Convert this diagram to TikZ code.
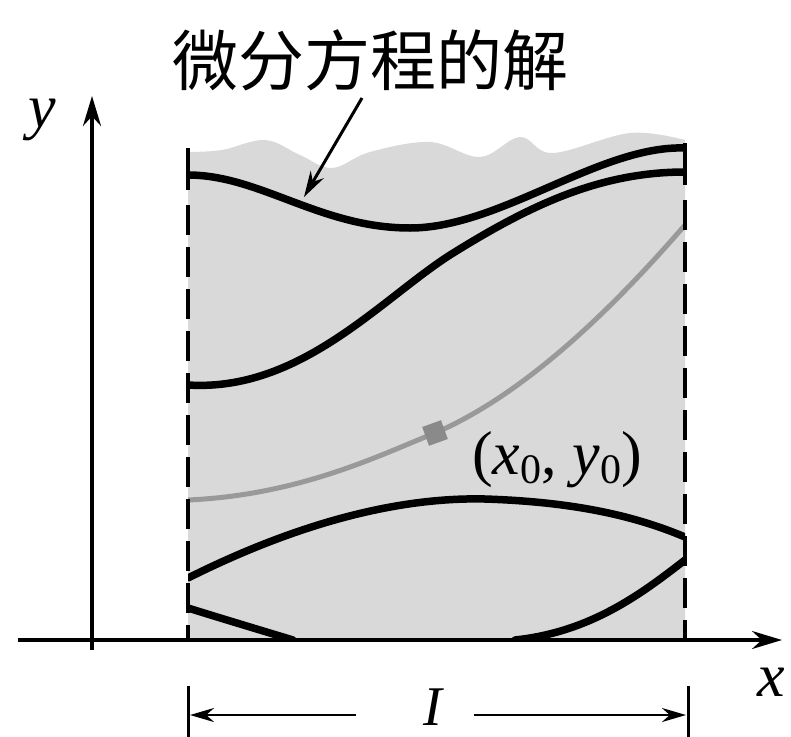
\documentclass[tikz,border=0pt]{standalone}
\usepackage{fontspec}
\setmainfont{Liberation Serif}
\newfontfamily\cjk{Noto Sans CJK SC}
\usetikzlibrary{arrows.meta}
\definecolor{shadegray}{gray}{0.85}
\definecolor{solgray}{gray}{0.6}
\tikzset{
  sol/.style={line width=7.5pt, black, line cap=round},
  bound/.style={line width=3.8pt, black, dash pattern=on 30pt off 12pt},
  axis/.style={line width=3.2pt, -{Stealth[length=30pt,width=18pt]}},
  dimarrow/.style={line width=2.8pt, -{Stealth[length=24pt,width=14pt]}},
  lbl/.style={inner sep=0pt, font=\fontsize{62}{66}\selectfont}
}
\begin{document}
\begin{tikzpicture}[x=1pt,y=-1pt]
\useasboundingbox (0,0) rectangle (791,736);
% shaded region
\fill[shadegray] plot[smooth, tension=0.6] coordinates {(188,152) (222,150) (265,140) (300,155) (332,168) (370,152) (430,142) (480,157) (520,137) (553,153) (630,133) (685,140)} -- (685,640) -- (188,640) -- cycle;
% solution curves, clipped to the interval
\begin{scope}
\clip (188,100) rectangle (685,640);
\draw[sol] (188,175) .. controls (260,175) and (320,228) .. (410,228) .. controls (500,228) and (600,145) .. (685,148);
\draw[sol] (188,385) .. controls (300,392) and (380,300) .. (450,255) .. controls (530,205) and (600,172) .. (685,172);
\draw[line width=5pt, solgray] (188,500) .. controls (300,495) and (380,455) .. (435,433) .. controls (530,392) and (620,300) .. (685,225);
\draw[sol] (188,578) .. controls (300,522) and (400,497) .. (485,499) .. controls (580,502) and (640,518) .. (685,537);
\draw[sol] (188,608) .. controls (220,618) and (260,630) .. (293,640);
\draw[sol] (515,640) .. controls (590,632) and (640,595) .. (685,560);
\end{scope}
% interval boundaries
\coordinate (lt) at (188,148); \coordinate (lb) at (188,640);
\coordinate (rt) at (685,143); \coordinate (rb) at (685,640);
\draw[line width=3.8pt] (lt) -- (188,190);
\draw[bound] (188,205) -- (lb);
\draw[line width=3.8pt] (rt) -- (685,185);
\draw[bound] (685,200) -- (rb);
% point
\node[fill=solgray!90!black, minimum size=20pt, inner sep=0pt, rotate=20] (p0) at (435,433) {};
\node[lbl] (plbl) at (557,460) {(\textit{x}\raisebox{-0.3ex}{\fontsize{42}{44}\selectfont 0}, \textit{y}\raisebox{-0.3ex}{\fontsize{42}{44}\selectfont 0})};
% axes
\coordinate (xs) at (18,640); \coordinate (xe) at (782,640);
\coordinate (ys) at (92,650); \coordinate (ye) at (92,96);
\draw[axis] (xs) -- (xe);
\draw[axis] (ys) -- (ye);
\node[lbl, font=\fontsize{62}{64}\selectfont\itshape] (ylbl) at (42,120) {y};
\node[lbl, font=\fontsize{62}{64}\selectfont\itshape] (xlbl) at (771,682) {x};
% label with arrow
\node[inner sep=0pt, font=\cjk\fontsize{66}{70}\selectfont] (title) at (370,60) {微分方程的解};
\coordinate (tip) at (304,197);
\draw[line width=3pt, -{Stealth[length=26pt,width=15pt]}] (362,98) -- (tip);
% interval I
\draw[line width=3pt] (188,686) -- (188,740);
\draw[line width=3pt] (688,686) -- (688,740);
\node[lbl, font=\fontsize{56}{58}\selectfont\itshape] (Ilbl) at (433,707) {I};
\draw[dimarrow] (356,715) -- (190,715);
\draw[dimarrow] (474,715) -- (686,715);
\end{tikzpicture}
\end{document}
